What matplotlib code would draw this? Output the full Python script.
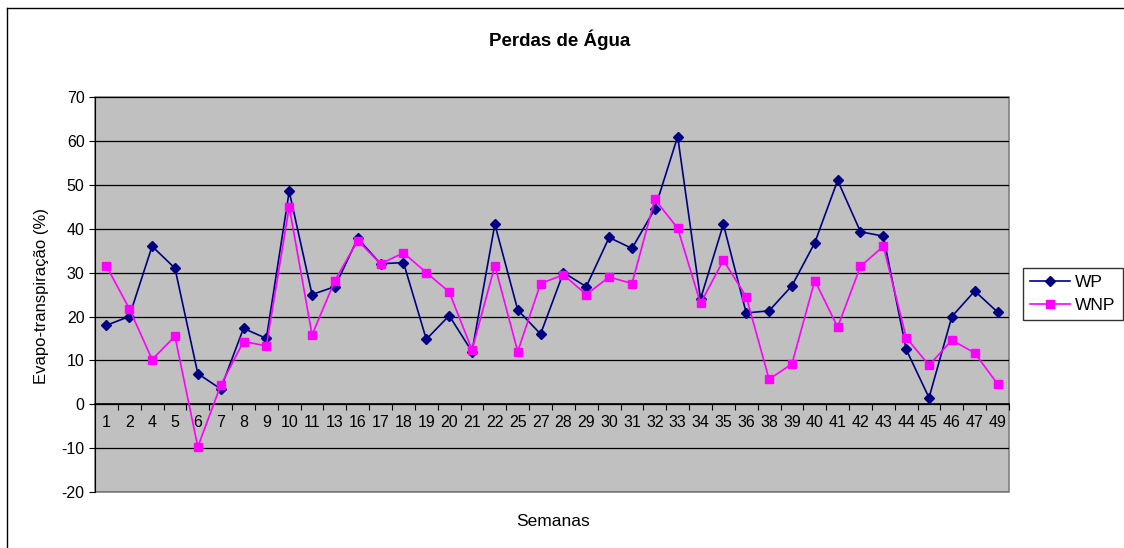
import numpy as np
import matplotlib.pyplot as plt
from matplotlib.patches import Rectangle
from matplotlib.lines import Line2D

plt.rcParams['font.family'] = ['Liberation Sans', 'DejaVu Sans']
plt.rcParams['axes.unicode_minus'] = False

semanas = ['1', '2', '4', '5', '6', '7', '8', '9', '10', '11', '13', '16', '17', '18',
           '19', '20', '21', '22', '25', '27', '28', '29', '30', '31', '32', '33', '34',
           '35', '36', '38', '39', '40', '41', '42', '43', '44', '45', '46', '47', '49']
wp = [18, 20, 36, 31, 7, 3.5, 17.3, 15, 48.5, 25, 26.8, 37.8, 32, 32.3, 14.8, 20.2,
      12, 41, 21.5, 16, 30, 26.8, 38, 35.5, 44.5, 61, 24, 41, 20.8, 21.3, 27, 36.8,
      51, 39.3, 38.3, 12.5, 1.5, 20, 25.8, 21]
wnp = [31.5, 21.8, 10.2, 15.5, -9.7, 4.3, 14.3, 13.3, 45, 15.8, 28.2, 37.3, 32, 34.5,
       30, 25.6, 12.4, 31.6, 12, 27.5, 29.5, 25, 29, 27.5, 46.7, 40.1, 23, 32.8, 24.5,
       5.7, 9.2, 28.2, 17.6, 31.4, 36, 15.2, 8.9, 14.6, 11.7, 4.6]
yticks = np.arange(-20, 71, 10)

fig = plt.figure(figsize=(11.24, 5.48), dpi=100)
ax = fig.add_axes([0.0845, 0.102, 0.8132, 0.721])
ax.set_facecolor('#C0C0C0')

x = np.arange(len(semanas))
ax.plot(x, wp, color='#000080', marker='D', markersize=5.5, linewidth=1.2, label='WP', zorder=3)
ax.plot(x, wnp, color='#FF00FF', marker='s', markersize=6, linewidth=1.2, label='WNP', zorder=3)

ax.set_xlim(-0.5, len(semanas) - 0.5)
ax.set_ylim(-20, 70)
ax.set_yticks(yticks)
ax.tick_params(axis='y', labelsize=11.5, length=4, direction='out', colors='black')
for v in yticks:
    ax.axhline(v, color='black', linewidth=0.9, zorder=1)

# x axis crosses at zero
ax.spines['bottom'].set_position(('data', 0))
ax.spines['bottom'].set_linewidth(1.2)
ax.set_xticks(np.arange(len(semanas) + 1) - 0.5)
ax.set_xticklabels([])
ax.set_xticks(x, minor=True)
ax.set_xticklabels(semanas, minor=True, fontsize=11.5)
ax.tick_params(axis='x', which='major', length=4, direction='out')
ax.tick_params(axis='x', which='minor', length=0, pad=8)
for s in ['top', 'right']:
    ax.spines[s].set_visible(False)
ax.spines['left'].set_color('black')
ax.add_patch(Rectangle((0, 0), 1, 1, transform=ax.transAxes, fill=False,
                       edgecolor='#808080', linewidth=1.2, zorder=0.5, clip_on=False))

fig.text(0.037, 0.459, 'Evapo-transpiração (%)', rotation=90, ha='center', va='center', fontsize=12)
fig.text(0.492, 0.049, 'Semanas', ha='center', va='center', fontsize=12.5)
fig.text(0.498, 0.927, 'Perdas de Água', ha='center', va='center', fontsize=13.5, fontweight='bold')

leg = fig.legend(loc='center', bbox_to_anchor=(0.9546, 0.4635), fontsize=12.5, frameon=True,
                 fancybox=False, edgecolor='black', handlelength=2.3, borderpad=0.4,
                 labelspacing=0.5, handletextpad=0.3)
leg.get_frame().set_linewidth(1.0)

# chart area border (only left and top are visible in the reference)
fig.add_artist(Line2D([0.0062, 0.0062], [0.0, 0.9854], transform=fig.transFigure,
                      color='black', linewidth=1.0))
fig.add_artist(Line2D([0.0062, 1.0], [0.9854, 0.9854], transform=fig.transFigure,
                      color='black', linewidth=1.0))

fig.savefig('out.png', dpi=100)
